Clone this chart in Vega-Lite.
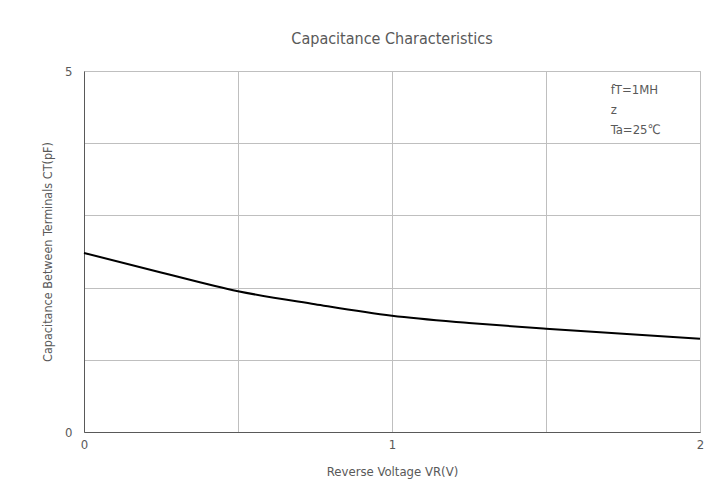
{
  "$schema": "https://vega.github.io/schema/vega-lite/v6.json",
  "width": 616,
  "height": 361,
  "autosize": "none",
  "padding": {"left": 84, "top": 71, "right": 26, "bottom": 68},
  "background": "white",
  "title": {"text": "Capacitance Characteristics", "font": "DejaVu Sans Condensed", "fontSize": 16, "fontWeight": "normal", "color": "#595959", "offset": 18},
  "config": {
    "view": {"stroke": "#bfbfbf", "strokeWidth": 1},
    "font": "DejaVu Sans Condensed"
  },
  "datasets": {
    "curve": [
      {"v": 0, "c": 2.48},
      {"v": 0.25, "c": 2.21},
      {"v": 0.5, "c": 1.95},
      {"v": 0.75, "c": 1.77},
      {"v": 1, "c": 1.61},
      {"v": 1.25, "c": 1.51},
      {"v": 1.5, "c": 1.43},
      {"v": 1.75, "c": 1.36},
      {"v": 2, "c": 1.29}
    ],
    "notes": [
      {"v": 1.71, "c": 4.74, "t": "fT=1MH"},
      {"v": 1.71, "c": 4.46, "t": "z"},
      {"v": 1.71, "c": 4.18, "t": "Ta=25℃"}
    ]
  },
  "layer": [
    {
      "data": {"name": "curve"},
      "mark": {"type": "line", "color": "black", "strokeWidth": 2, "interpolate": "monotone"},
      "encoding": {
        "x": {"field": "v", "type": "quantitative", "scale": {"domain": [0, 2], "nice": false},
          "axis": {"values": [0, 0.5, 1, 1.5, 2], "labelExpr": "datum.value % 1 == 0 ? format(datum.value, 'd') : ''", "labelFlush": false, "labelOverlap": false, "title": "Reverse Voltage VR(V)", "grid": true, "gridColor": "#bfbfbf", "ticks": false, "domainColor": "#595959", "labelColor": "#595959", "labelFontSize": 13, "labelPadding": 6, "titleColor": "#595959", "titleFontSize": 13, "titleFontWeight": "normal", "titlePadding": 14}},
        "y": {"field": "c", "type": "quantitative", "scale": {"domain": [0, 5], "nice": false},
          "axis": {"values": [0, 1, 2, 3, 4, 5], "labelExpr": "datum.value == 0 || datum.value == 5 ? format(datum.value, 'd') : ''", "labelFlush": false, "labelOverlap": false, "title": "Capacitance Between Terminals CT(pF)", "grid": true, "gridColor": "#bfbfbf", "ticks": false, "domainColor": "#595959", "labelColor": "#595959", "labelFontSize": 13, "labelPadding": 12, "titleColor": "#595959", "titleFontSize": 12.5, "titleFontWeight": "normal", "titlePadding": 10}}
      }
    },
    {
      "data": {"name": "notes"},
      "mark": {"type": "text", "align": "left", "baseline": "middle", "fontSize": 13, "color": "#595959"},
      "encoding": {
        "x": {"field": "v", "type": "quantitative"},
        "y": {"field": "c", "type": "quantitative"},
        "text": {"field": "t"}
      }
    }
  ]
}
